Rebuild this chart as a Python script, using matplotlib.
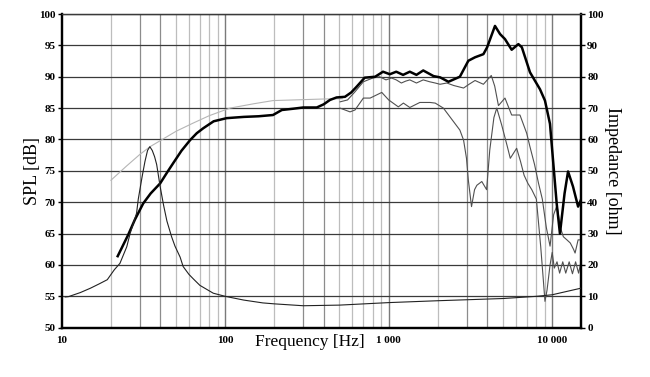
import numpy as np
import matplotlib
matplotlib.use("Agg")
import matplotlib.pyplot as plt
from matplotlib.ticker import NullLocator

# ---------------- data ----------------
# On-axis SPL (thick black)
spl0_f = [22, 25.5, 28, 31.5, 35, 40, 44, 48, 54, 61, 67, 73.5, 85, 102, 130, 160, 196, 222, 260, 300,
          363, 400, 437, 480, 540, 590, 636, 713, 826, 923, 1016, 1112, 1224, 1346, 1478, 1626, 1881,
          2063, 2319, 2724, 3070, 3373, 3795, 4000, 4467, 4797, 5142, 5650, 6210, 6520, 7315, 8420,
          9030, 9690, 10650, 11150, 11900, 12500, 13400, 14400, 15000]
spl0_db = [61.4, 64.8, 67.2, 69.8, 71.4, 73.0, 74.7, 76.2, 78.2, 79.9, 81.0, 81.8, 82.9, 83.4, 83.6,
           83.7, 83.9, 84.7, 84.9, 85.1, 85.1, 85.6, 86.3, 86.7, 86.8, 87.5, 88.4, 89.85, 90.0, 90.8,
           90.4, 90.8, 90.3, 90.8, 90.3, 91.0, 90.1, 89.9, 89.2, 90.0, 92.55, 93.1, 93.6, 94.7, 98.1,
           96.8, 96.0, 94.3, 95.2, 94.7, 90.7, 88.0, 86.2, 82.5, 69.8, 65.0, 71.4, 74.9, 72.5, 69.3,
           70.4]

# Low-frequency extension (light grey)
lf_f = [20, 25, 30, 34.7, 40, 50, 63.5, 80, 107, 150, 196, 300, 400, 520]
lf_db = [73.5, 75.8, 77.6, 78.85, 79.8, 81.3, 82.6, 83.8, 85.0, 85.7, 86.2, 86.35, 86.45, 86.5]

# 30 deg off-axis
spl30_f = [504, 560, 622, 700, 800, 880, 962, 1040, 1112, 1195, 1270, 1346, 1478, 1626, 1780, 1925,
           2060, 2268, 2500, 2870, 3100, 3373, 3795, 4240, 4450, 4690, 5140, 5650, 6350, 6980, 7300,
           7800, 8250, 8700, 9200, 9700, 10200, 10700, 11200, 11700, 12300, 12900, 13500, 13800,
           14400, 15000]
spl30_db = [86.0, 86.3, 87.6, 89.2, 89.8, 90.0, 89.5, 89.8, 89.5, 89.0, 89.3, 89.5, 89.0, 89.5, 89.2,
            89.0, 88.8, 89.0, 88.6, 88.2, 88.8, 89.4, 88.8, 90.2, 88.5, 85.4, 86.6, 83.9, 83.9, 81.0,
            78.9, 76.0, 73.0, 70.5, 66.0, 63.0, 68.0, 69.5, 66.0, 64.5, 64.0, 63.5, 62.5, 61.9, 64.0,
            64.0]

# 60 deg off-axis
spl60_f = [504, 580, 622, 700, 770, 907, 1000, 1145, 1230, 1346, 1550, 1790, 1925, 2160, 2370, 2724,
           2870, 2990, 3070, 3210, 3350, 3460, 3710, 3970, 4150, 4400, 4580, 4910, 5300, 5540, 6060,
           6400, 6730, 7100, 7500, 8000, 8500, 8800, 9030, 9300, 9700, 10000, 10300, 10700, 11100,
           11600, 12100, 12700, 13300, 13900, 14500, 15000]
spl60_db = [85.0, 84.4, 84.7, 86.6, 86.6, 87.5, 86.3, 85.2, 85.8, 85.1, 85.9, 85.9, 85.8, 85.0, 83.6,
            81.5, 79.9, 77.0, 73.5, 69.3, 72.0, 72.7, 73.3, 72.0, 78.3, 83.5, 85.0, 82.3, 79.0, 77.0,
            78.6, 76.5, 74.3, 73.0, 72.0, 70.5, 63.0, 58.0, 54.2, 56.0, 60.0, 62.0, 59.5, 60.5, 58.7,
            60.5, 58.7, 60.5, 58.6, 60.5, 58.7, 60.5]

# Impedance [ohm]
imp_f = [10.5, 11, 13, 15, 17, 19, 21, 22.7, 25, 26.2, 28.7, 29.4, 31, 32.3, 33.5, 34.6, 35.8, 37,
         38.1, 40, 42, 44, 47, 49.3, 53, 55.3, 60, 64, 70, 84.5, 100, 130, 170, 200, 300, 500, 1000,
         2000, 5000, 8000, 10000, 15000]
imp_ohm = [9.8, 9.9, 11.2, 12.6, 14.0, 15.3, 18.5, 20.5, 25.8, 30.0, 36.5, 41.0, 48.0, 53.0, 56.5,
           57.7, 56.5, 54.5, 52.0, 45.0, 39.0, 34.0, 29.0, 26.0, 22.5, 19.5, 17.0, 15.5, 13.5, 11.0,
           10.0, 8.8, 7.9, 7.6, 7.0, 7.2, 8.0, 8.6, 9.3, 10.0, 10.5, 12.6]

spl_ticks = [50, 55, 60, 65, 70, 75, 80, 85, 90, 95, 100]
imp_ticks = [0, 10, 20, 30, 40, 50, 60, 70, 80, 90, 100]
x_ticks = [10, 100, 1000, 10000]
x_labels = ["10", "100", "1 000", "10 000"]

# ---------------- plot ----------------
plt.rcParams['font.family'] = ['Liberation Serif', 'DejaVu Serif']

fig = plt.figure(figsize=(6.5, 3.77), dpi=100)
ax = fig.add_axes([61.7 / 650, 1 - 327.7 / 377, (581 - 61.7) / 650, (327.7 - 14) / 377])
ax2 = ax.twinx()

ax.set_xscale('log')
ax.set_xlim(10, 15000)
ax.set_ylim(50, 100)
ax2.set_ylim(0, 100)

# vertical grid
minor_pos = [m * 10 ** d for d in range(1, 5) for m in range(2, 10) if m * 10 ** d <= 15000]
for v in minor_pos:
    m = round(v / 10 ** int(np.floor(np.log10(v))))
    col = '#8c8c8c' if m in (3, 4) else '#bdbdbd'
    ax.axvline(v, color=col, lw=0.9, zorder=0)
for v in [100, 1000, 10000]:
    ax.axvline(v, color='#7a7a7a', lw=1.0, zorder=0)
for h in spl_ticks[1:-1]:
    ax.axhline(h, color='#3a3a3a', lw=0.9, zorder=0)
ax.axhline(100, color='#3a3a3a', lw=0.9, zorder=0)

# curves
ax.plot(lf_f, lf_db, color='#b5b5b5', lw=0.8, zorder=2)
ax.plot(spl60_f, spl60_db, color='#505050', lw=0.8, zorder=3)
ax.plot(spl30_f, spl30_db, color='#505050', lw=0.8, zorder=3)
ax2.plot(imp_f, imp_ohm, color='#222222', lw=0.8, zorder=3)
ax.plot(spl0_f, spl0_db, color='black', lw=1.8, zorder=4)

# axes styling
ax.set_xticks(x_ticks)
ax.set_xticklabels(x_labels)
ax.xaxis.set_minor_locator(NullLocator())
ax.tick_params(axis='x', length=0, pad=6)
ax.set_yticks(spl_ticks)
ax2.set_yticks(imp_ticks)
for a in (ax, ax2):
    a.tick_params(axis='y', length=3, width=1, direction='out', pad=1.5)
    for lab in a.get_yticklabels() + a.get_xticklabels():
        lab.set_fontweight('bold')
        lab.set_fontsize(8)
for s in ('left', 'right', 'bottom'):
    ax.spines[s].set_linewidth(1.6)
    ax2.spines[s].set_linewidth(1.6)
for a in (ax, ax2):
    a.spines['top'].set_linewidth(0.9)
    a.spines['top'].set_color('#3a3a3a')

fig.text(32 / 650, 1 - 171 / 377, 'SPL [dB]', rotation=90, ha='center', va='center', fontsize=13)
fig.text(612 / 650, 1 - 171 / 377, 'Impedance [ohm]', rotation=270, ha='center', va='center', fontsize=13)
fig.text(310 / 650, 1 - 342 / 377, 'Frequency [Hz]', ha='center', va='center', fontsize=12.5)

fig.savefig('out.png', dpi=100)
